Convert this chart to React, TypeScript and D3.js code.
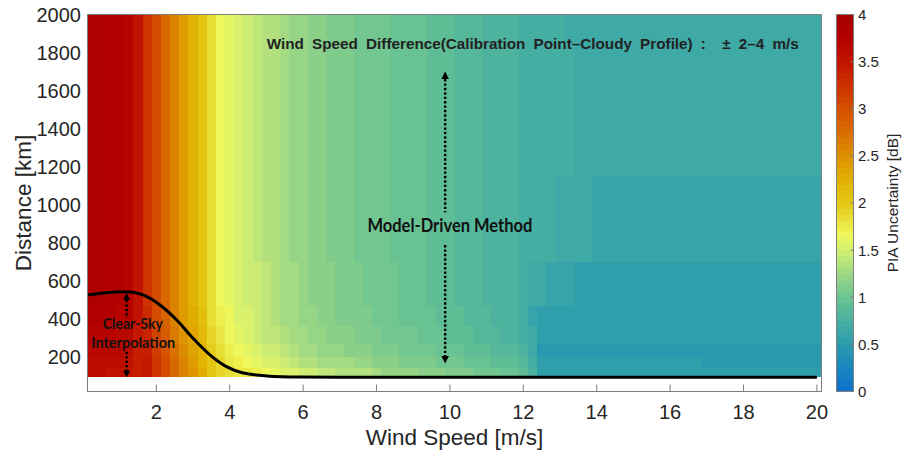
import React from 'react';
import * as d3 from 'd3';

// Wind-speed cell centres (m/s), one column every 0.25 m/s
const windSpeeds: number[] = d3.range(1, 81).map((k) => k * 0.25);

// Distance band edges (km); band k spans distanceEdges[k]..distanceEdges[k+1]
const distanceEdges = [93.75, 140, 200, 270, 360, 470, 700, 1150, 1850, 2000];

// PIA uncertainty (dB) per wind-speed column, one array per distance band
const pia_0094_0140 = [
  3.57, 3.57, 3.55, 3.53, 3.49, 3.38, 3.46, 3.22, 3.02, 2.80,
  2.60, 2.44, 2.26, 2.04, 1.90, 1.86, 1.80, 1.75, 1.70, 1.65,
  1.61, 1.56, 1.52, 1.47, 1.44, 1.41, 1.39, 1.37, 1.35, 1.33,
  1.32, 1.25, 1.23, 1.22, 1.20, 1.19, 1.17, 1.15, 1.13, 1.11,
  1.09, 1.07, 1.05, 1.03, 1.01, 0.99, 0.98, 0.90, 0.78, 0.55,
  0.55, 0.55, 0.55, 0.55, 0.55, 0.55, 0.55, 0.55, 0.55, 0.55,
  0.55, 0.55, 0.55, 0.55, 0.55, 0.55, 0.55, 0.55, 0.55, 0.55,
  0.55, 0.55, 0.55, 0.55, 0.55, 0.55, 0.55, 0.55, 0.55, 0.55,
];
const pia_0140_0200 = [
  3.62, 3.62, 3.60, 3.58, 3.54, 3.40, 3.44, 3.20, 3.00, 2.78,
  2.58, 2.42, 2.24, 2.02, 1.88, 1.78, 1.71, 1.65, 1.60, 1.55,
  1.51, 1.46, 1.42, 1.37, 1.34, 1.31, 1.29, 1.27, 1.25, 1.23,
  1.22, 1.17, 1.15, 1.14, 1.12, 1.11, 1.09, 1.07, 1.05, 1.03,
  1.01, 0.99, 0.97, 0.95, 0.93, 0.91, 0.90, 0.82, 0.72, 0.50,
  0.50, 0.50, 0.50, 0.50, 0.50, 0.50, 0.50, 0.50, 0.50, 0.50,
  0.50, 0.50, 0.50, 0.50, 0.50, 0.50, 0.50, 0.46, 0.46, 0.46,
  0.46, 0.46, 0.46, 0.46, 0.46, 0.46, 0.46, 0.46, 0.46, 0.46,
];
const pia_0200_0270 = [
  3.67, 3.67, 3.65, 3.63, 3.59, 3.40, 3.39, 3.15, 2.95, 2.73,
  2.53, 2.37, 2.19, 1.97, 1.83, 1.71, 1.64, 1.58, 1.53, 1.48,
  1.44, 1.39, 1.35, 1.30, 1.27, 1.24, 1.22, 1.20, 1.18, 1.16,
  1.15, 1.11, 1.09, 1.08, 1.06, 1.05, 1.03, 1.01, 0.99, 0.97,
  0.95, 0.93, 0.91, 0.89, 0.87, 0.85, 0.84, 0.78, 0.68, 0.49,
  0.49, 0.49, 0.49, 0.49, 0.49, 0.49, 0.49, 0.49, 0.49, 0.49,
  0.49, 0.49, 0.49, 0.49, 0.49, 0.49, 0.49, 0.46, 0.46, 0.46,
  0.46, 0.46, 0.46, 0.46, 0.46, 0.46, 0.46, 0.46, 0.46, 0.46,
];
const pia_0270_0360 = [
  3.72, 3.72, 3.70, 3.68, 3.64, 3.45, 3.34, 3.10, 2.90, 2.68,
  2.48, 2.32, 2.14, 1.92, 1.78, 1.66, 1.59, 1.53, 1.48, 1.43,
  1.39, 1.34, 1.30, 1.25, 1.22, 1.19, 1.17, 1.15, 1.13, 1.11,
  1.10, 1.07, 1.05, 1.04, 1.02, 1.01, 0.99, 0.97, 0.95, 0.93,
  0.91, 0.89, 0.87, 0.85, 0.83, 0.81, 0.80, 0.74, 0.64, 0.50,
  0.50, 0.50, 0.50, 0.50, 0.50, 0.50, 0.50, 0.50, 0.50, 0.50,
  0.50, 0.50, 0.50, 0.50, 0.50, 0.50, 0.50, 0.50, 0.50, 0.50,
  0.50, 0.50, 0.50, 0.50, 0.50, 0.50, 0.50, 0.50, 0.50, 0.50,
];
const pia_0360_0470 = [
  3.77, 3.77, 3.75, 3.73, 3.69, 3.50, 3.28, 3.04, 2.84, 2.62,
  2.42, 2.26, 2.08, 1.86, 1.72, 1.63, 1.56, 1.50, 1.45, 1.40,
  1.36, 1.31, 1.27, 1.22, 1.19, 1.16, 1.14, 1.12, 1.10, 1.08,
  1.07, 1.04, 1.02, 1.01, 0.99, 0.98, 0.96, 0.94, 0.92, 0.90,
  0.88, 0.86, 0.84, 0.82, 0.80, 0.78, 0.77, 0.70, 0.62, 0.56,
  0.50, 0.50, 0.50, 0.50, 0.50, 0.50, 0.50, 0.50, 0.50, 0.50,
  0.50, 0.50, 0.50, 0.50, 0.50, 0.50, 0.50, 0.50, 0.50, 0.50,
  0.50, 0.50, 0.50, 0.50, 0.50, 0.50, 0.50, 0.50, 0.50, 0.50,
];
const pia_0470_0700 = [
  3.82, 3.82, 3.80, 3.78, 3.74, 3.55, 3.24, 3.00, 2.80, 2.58,
  2.38, 2.22, 2.04, 1.82, 1.68, 1.62, 1.55, 1.49, 1.44, 1.39,
  1.35, 1.30, 1.26, 1.21, 1.18, 1.15, 1.13, 1.11, 1.09, 1.07,
  1.06, 1.03, 1.01, 1.00, 0.98, 0.97, 0.95, 0.93, 0.91, 0.89,
  0.87, 0.85, 0.83, 0.81, 0.79, 0.77, 0.76, 0.72, 0.68, 0.64,
  0.61, 0.59, 0.57, 0.55, 0.54, 0.53, 0.52, 0.51, 0.50, 0.50,
  0.50, 0.50, 0.50, 0.50, 0.50, 0.50, 0.50, 0.50, 0.50, 0.50,
  0.50, 0.50, 0.50, 0.50, 0.50, 0.50, 0.50, 0.50, 0.50, 0.50,
];
const pia_0700_1150 = [
  3.82, 3.82, 3.80, 3.78, 3.74, 3.55, 3.24, 3.00, 2.80, 2.58,
  2.38, 2.22, 2.04, 1.82, 1.68, 1.60, 1.53, 1.47, 1.42, 1.37,
  1.33, 1.28, 1.24, 1.19, 1.16, 1.13, 1.11, 1.09, 1.07, 1.05,
  1.04, 1.02, 1.00, 0.99, 0.97, 0.96, 0.94, 0.92, 0.90, 0.88,
  0.86, 0.84, 0.82, 0.80, 0.78, 0.76, 0.75, 0.72, 0.71, 0.70,
  0.69, 0.68, 0.67, 0.66, 0.66, 0.62, 0.62, 0.62, 0.62, 0.62,
  0.62, 0.62, 0.62, 0.62, 0.62, 0.62, 0.62, 0.62, 0.62, 0.62,
  0.62, 0.62, 0.62, 0.62, 0.62, 0.62, 0.62, 0.62, 0.62, 0.62,
];
const pia_1150_1850 = [
  3.82, 3.82, 3.80, 3.78, 3.74, 3.55, 3.24, 3.00, 2.80, 2.58,
  2.38, 2.22, 2.04, 1.82, 1.68, 1.60, 1.53, 1.47, 1.42, 1.37,
  1.33, 1.28, 1.24, 1.19, 1.16, 1.13, 1.11, 1.09, 1.07, 1.05,
  1.04, 1.02, 1.00, 0.99, 0.97, 0.96, 0.94, 0.92, 0.90, 0.88,
  0.86, 0.84, 0.82, 0.80, 0.78, 0.76, 0.75, 0.74, 0.73, 0.72,
  0.71, 0.70, 0.69, 0.68, 0.68, 0.67, 0.67, 0.67, 0.67, 0.67,
  0.67, 0.67, 0.67, 0.67, 0.67, 0.67, 0.67, 0.67, 0.67, 0.67,
  0.67, 0.67, 0.67, 0.67, 0.67, 0.67, 0.67, 0.67, 0.67, 0.67,
];
const pia_1850_2000 = [
  3.82, 3.82, 3.80, 3.78, 3.74, 3.55, 3.24, 3.00, 2.80, 2.58,
  2.38, 2.22, 2.04, 1.82, 1.68, 1.60, 1.53, 1.47, 1.42, 1.37,
  1.33, 1.28, 1.24, 1.19, 1.16, 1.13, 1.11, 1.09, 1.07, 1.05,
  1.04, 1.02, 1.00, 0.99, 0.97, 0.96, 0.94, 0.92, 0.90, 0.88,
  0.86, 0.84, 0.82, 0.80, 0.78, 0.76, 0.75, 0.73, 0.72, 0.71,
  0.70, 0.69, 0.68, 0.67, 0.67, 0.63, 0.63, 0.63, 0.63, 0.63,
  0.63, 0.63, 0.63, 0.63, 0.63, 0.63, 0.63, 0.63, 0.63, 0.63,
  0.63, 0.63, 0.63, 0.63, 0.63, 0.63, 0.63, 0.63, 0.63, 0.63,
];
const piaBands = [
  pia_0094_0140, pia_0140_0200, pia_0200_0270, pia_0270_0360, pia_0360_0470,
  pia_0470_0700, pia_0700_1150, pia_1150_1850, pia_1850_2000,
];

// Upper limit of the clear-sky interpolation region
const boundaryWind = [0.125, 0.5, 0.9, 1.19, 1.64, 2.1, 2.55, 3.0, 3.46, 3.91, 4.37, 5.0, 5.9, 7.0, 20.0];
const boundaryDistance = [526, 535, 541, 543, 526, 473, 395, 298, 211, 149, 115, 100, 94, 93, 93];

// Axis ticks
const xTicks = [2, 4, 6, 8, 10, 12, 14, 16, 18, 20];
const yTicks = [200, 400, 600, 800, 1000, 1200, 1400, 1600, 1800, 2000];
const colorbarTicks = [0, 0.5, 1, 1.5, 2, 2.5, 3, 3.5, 4];
const colorbarTickLabels = ['0', '0.5', '1', '1.5', '2', '2.5', '3', '3.5', '4'];

// Colormap anchors (dB -> colour), sampled into 64 discrete levels
const cmapStops = [0, 0.25, 0.5, 0.75, 1.0, 1.25, 1.5, 1.65, 1.8, 2.0, 2.25, 2.5, 2.75, 3.0, 3.25, 3.5, 3.75, 4.0];
const cmapColors = [
  '#0c70cc', '#1a86c0', '#2c9cae', '#48b0a0', '#6cc490', '#9cd784', '#d4ef72', '#eef85c', '#ebe440',
  '#e4c814', '#e0b000', '#dc9000', '#d86c00', '#d45000', '#cc3000', '#c21400', '#b40000', '#a50000',
];

const W = 904;
const H = 455;
const PL = 87.5;
const PR = 821.5;
const PT = 14.5;
const PB = 391.5;
const CB_L = 836.5;
const CB_R = 853.5;
const AXIS_FONT = "'Liberation Sans', Arial, Helvetica, sans-serif";
const NOTE_FONT = "Lato, 'Open Sans', sans-serif";
const GRID_COLOR = '#7f7f7f';
const TEXT_COLOR = '#262626';

function DottedArrow({ x0, yTip0, yA, yB, yTip1, head }: { x0: number; yTip0: number; yA: number; yB: number; yTip1: number; head: number }) {
  const hw = head / 2;
  return (
    <g>
      <line x1={x0} x2={x0} y1={yTip0 + head} y2={yA} stroke="#000" strokeWidth={2.4} strokeDasharray="2.4 2" />
      <line x1={x0} x2={x0} y1={yB} y2={yTip1 - head} stroke="#000" strokeWidth={2.4} strokeDasharray="2.4 2" />
      <path d={`M${x0},${yTip0} L${x0 - hw},${yTip0 + head} L${x0 + hw},${yTip0 + head} Z`} fill="#000" />
      <path d={`M${x0},${yTip1} L${x0 - hw},${yTip1 - head} L${x0 + hw},${yTip1 - head} Z`} fill="#000" />
    </g>
  );
}

export default function App() {
  const x = d3.scaleLinear().domain([0.125, 20.125]).range([PL, PR]);
  const y = d3.scaleLinear().domain([18, 2000]).range([PB, PT]);
  const cbY = d3.scaleLinear().domain([0, 4]).range([PB, PT]);
  const cmap = d3
    .scaleLinear<string>()
    .domain(cmapStops)
    .range(cmapColors)
    .interpolate(d3.interpolateRgb)
    .clamp(true);
  const nLevels = 64;
  const levelOf = (v: number) => Math.max(0, Math.min(nLevels - 1, Math.floor((v / 4) * nLevels)));
  const levelColor = (k: number) => cmap(((k + 0.5) * 4) / nLevels);

  const cells: React.ReactNode[] = [];
  piaBands.forEach((band, b) => {
    const yTop = Math.round(y(distanceEdges[b + 1]));
    const yBot = Math.round(y(distanceEdges[b]));
    band.forEach((v, i) => {
      const w = windSpeeds[i];
      const x0 = Math.round(x(w - 0.125));
      const x1 = Math.round(x(w + 0.125));
      cells.push(
        <rect key={`c${b}-${i}`} x={x0} y={yTop} width={x1 - x0} height={yBot - yTop} fill={levelColor(levelOf(v))} />
      );
    });
  });

  const line = d3
    .line<number>()
    .x((_, i) => x(boundaryWind[i]))
    .y((d) => y(d))
    .curve(d3.curveMonotoneX);

  const levels = d3.range(nLevels);

  return (
    <div style={{ position: 'absolute', left: 0, top: 0, width: W, height: H, background: '#fff' }}>
      <svg width={W} height={H} style={{ display: 'block' }}>
        <rect x={0} y={0} width={W} height={H} fill="#fff" />

        {/* ticks sit beneath the image, as in the figure */}
        <g stroke={GRID_COLOR} strokeWidth={1}>
          {xTicks.map((t) => (
            <line key={`xt${t}`} x1={x(t)} x2={x(t)} y1={PB} y2={PB - 7} />
          ))}
          {yTicks.map((t) => (
            <line key={`yt${t}`} x1={PL} x2={PL + 7} y1={y(t)} y2={y(t)} />
          ))}
        </g>

        <g shapeRendering="crispEdges">{cells}</g>

        {/* clear-sky region boundary */}
        <path d={line(boundaryDistance) || ''} fill="none" stroke="#000" strokeWidth={3} strokeLinejoin="round" />

        {/* axes frame */}
        <rect x={PL} y={PT} width={PR - PL} height={PB - PT} fill="none" stroke={GRID_COLOR} strokeWidth={1} />

        {/* tick labels */}
        <g fontFamily={AXIS_FONT} fontSize={20} fill={TEXT_COLOR}>
          {xTicks.map((t) => (
            <text key={`xl${t}`} x={x(t)} y={418.5} textAnchor="middle">
              {t}
            </text>
          ))}
          {yTicks.map((t) => (
            <text key={`yl${t}`} x={81} y={y(t)} dy="0.36em" textAnchor="end">
              {t}
            </text>
          ))}
        </g>

        {/* axis titles */}
        <text x={(PL + PR) / 2} y={445} textAnchor="middle" fontFamily={AXIS_FONT} fontSize={22.5} fill={TEXT_COLOR}>
          Wind Speed [m/s]
        </text>
        <text
          transform={`translate(31,${(PT + PB) / 2}) rotate(-90)`}
          textAnchor="middle"
          fontFamily={AXIS_FONT}
          fontSize={22.5}
          fill={TEXT_COLOR}
        >
          Distance [km]
        </text>

        {/* colorbar */}
        <g shapeRendering="crispEdges">
          {levels.map((k) => {
            const y0 = Math.round(cbY(((k + 1) * 4) / nLevels));
            const y1 = Math.round(cbY((k * 4) / nLevels));
            return <rect key={`cb${k}`} x={CB_L} y={y0} width={CB_R - CB_L} height={y1 - y0} fill={levelColor(k)} />;
          })}
        </g>
        <rect x={CB_L} y={PT} width={CB_R - CB_L} height={PB - PT} fill="none" stroke={GRID_COLOR} strokeWidth={1} />
        <g stroke={GRID_COLOR} strokeWidth={1}>
          {colorbarTicks.map((t) => (
            <line key={`cbt${t}`} x1={CB_R - 3} x2={CB_R} y1={cbY(t)} y2={cbY(t)} />
          ))}
        </g>
        <g fontFamily={AXIS_FONT} fontSize={15} fill={TEXT_COLOR}>
          {colorbarTicks.map((t, i) => (
            <text key={`cbl${t}`} x={858} y={cbY(t)} dy="0.36em">
              {colorbarTickLabels[i]}
            </text>
          ))}
        </g>
        <text
          transform={`translate(898,${(PT + PB) / 2}) rotate(-90)`}
          textAnchor="middle"
          fontFamily={AXIS_FONT}
          fontSize={15.5}
          fill={TEXT_COLOR}
        >
          PIA Uncertainty [dB]
        </text>

        {/* annotations */}
        <text
          x={x(5.01)}
          y={y(1818)}
          fontFamily={AXIS_FONT}
          fontWeight="bold"
          fontSize={15.5}
          fill="#222"
          textLength={532}
          lengthAdjust="spacingAndGlyphs"
          style={{ whiteSpace: 'pre', wordSpacing: '4px' }}
        >
          {'Wind Speed Difference(Calibration Point\u2013Cloudy Profile) :  \u00b1 2\u20134 m/s'}
        </text>

        <DottedArrow x0={x(9.87)} yTip0={y(1700)} yA={y(961)} yB={y(788)} yTip1={y(165)} head={7.5} />
        <text
          x={x(10.0)}
          y={y(858)}
          textAnchor="middle"
          fontFamily={NOTE_FONT}
          fontWeight="bold"
          fontSize={18}
          fill="#111"
          textLength={165}
          lengthAdjust="spacingAndGlyphs"
        >
          Model-Driven Method
        </text>

        <DottedArrow x0={x(1.19)} yTip0={y(536)} yA={y(404)} yB={y(227)} yTip1={y(91)} head={7} />
        <text
          x={x(1.36)}
          y={y(347)}
          textAnchor="middle"
          fontFamily={NOTE_FONT}
          fontWeight="bold"
          fontSize={15.5}
          fill="#111"
          textLength={60}
          lengthAdjust="spacingAndGlyphs"
        >
          Clear-Sky
        </text>
        <text
          x={x(1.37)}
          y={y(249)}
          textAnchor="middle"
          fontFamily={NOTE_FONT}
          fontWeight="bold"
          fontSize={15.5}
          fill="#111"
          textLength={84}
          lengthAdjust="spacingAndGlyphs"
        >
          Interpolation
        </text>
      </svg>
    </div>
  );
}
